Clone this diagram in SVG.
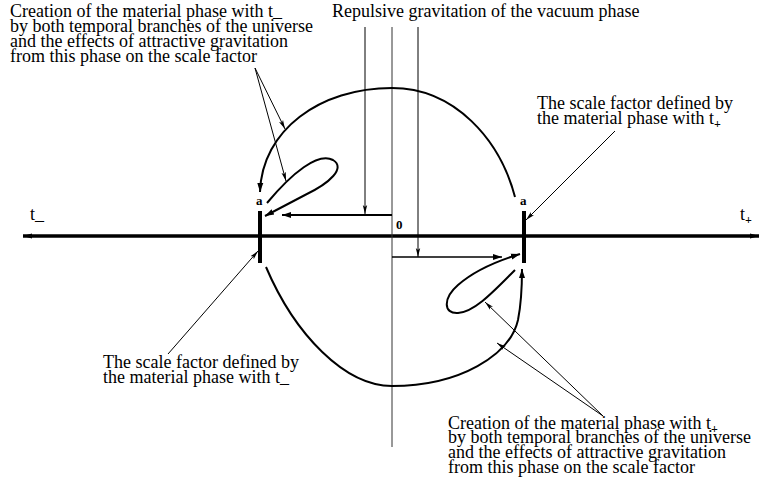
<svg xmlns="http://www.w3.org/2000/svg" width="762" height="487" viewBox="0 0 762 487">
<style>
text{font-family:"Liberation Serif","Times New Roman",serif;font-size:18px;fill:#000}
.b{font-weight:bold;font-size:13px}
.curve{fill:none;stroke:#000;stroke-width:2}
.thin{fill:none;stroke:#000;stroke-width:1}
.call{fill:none;stroke:#000;stroke-width:1;marker-end:url(#ah)}
.sub{font-size:12px;font-weight:bold}
</style>
<defs>
<marker id="ab" markerWidth="10" markerHeight="8" refX="9" refY="4" orient="auto" markerUnits="userSpaceOnUse"><path d="M0,1 L9,4 L0,7 Z" fill="#000"/></marker>
<marker id="ah" markerWidth="10" markerHeight="6" refX="9" refY="3" orient="auto" markerUnits="userSpaceOnUse"><path d="M0,0.8 L9,3 L0,5.2 L2,3 Z" fill="#000"/></marker>
<marker id="ax" markerWidth="10" markerHeight="8" refX="9" refY="4" orient="auto-start-reverse" markerUnits="userSpaceOnUse"><path d="M0,1.5 L9,4 L0,6.5 Z" fill="#000"/></marker>
</defs>

<g id="axis">
<line x1="23" y1="236" x2="759" y2="236" stroke="#000" stroke-width="3.5" marker-start="url(#ax)" marker-end="url(#ax)"/>
<text x="30" y="220">t_</text>
<text x="740" y="220">t<tspan class="sub" dy="4">+</tspan></text>
<text class="b" x="396" y="229">0</text>
</g>

<g id="bar-left">
<line x1="260" y1="211" x2="260" y2="263" stroke="#000" stroke-width="4"/>
<text class="b" x="256" y="205">a</text>
</g>
<g id="bar-right">
<line x1="524" y1="211" x2="524" y2="263" stroke="#000" stroke-width="4"/>
<text class="b" x="520" y="205">a</text>
</g>

<g id="connectors">
<line x1="392" y1="27" x2="392" y2="447" stroke="#333" stroke-width="1"/>
<path class="thin" d="M365,27 V214" marker-end="url(#ah)"/>
<path class="thin" d="M418,27 V257" marker-end="url(#ah)"/>
<path d="M392,215 H282" fill="none" stroke="#000" stroke-width="2" marker-end="url(#ab)"/>
<path d="M392,257 H502" fill="none" stroke="#000" stroke-width="1.3" marker-end="url(#ab)"/>
<path class="curve" d="M515,197 C500,140 455,88 392,88 C320,88 262,130 260,192" marker-end="url(#ab)"/>
<path class="curve" d="M267,203 C292,173 318,152 333,160 C346,168 330,183 305,195 L265,216" marker-end="url(#ab)"/>
<path class="curve" d="M266,267 C295,335 345,386 392,386 C460,386 510,355 518,320 C522,300 522,285 522,269" marker-end="url(#ab)"/>
<path class="curve" d="M515,270 C495,290 475,312 458,313 C443,314 443,298 458,285 C475,270 500,260 520,254" marker-end="url(#ab)"/>
<path class="call" d="M255,68 L285,129"/>
<path class="call" d="M255,68 L286,181"/>
<path class="call" d="M615,131 L526,220"/>
<path class="call" d="M168,354 L258,251"/>
<path class="call" d="M603,416 L485,302"/>
<path class="call" d="M603,416 L497,343"/>
</g>

<g id="label-top-left">
<text x="10" y="17">Creation of the material phase with t_</text>
<text x="10" y="32">by both temporal branches of the universe</text>
<text x="10" y="47">and the effects of attractive gravitation</text>
<text x="10" y="62">from this phase on the scale factor</text>
</g>
<g id="label-top-center">
<text x="332" y="17">Repulsive gravitation of the vacuum phase</text>
</g>
<g id="label-top-right">
<text x="537" y="109">The scale factor defined by</text>
<text x="537" y="124">the material phase with t<tspan class="sub" dy="4">+</tspan></text>
</g>
<g id="label-bottom-left">
<text x="103" y="368">The scale factor defined by</text>
<text x="103" y="383">the material phase with t_</text>
</g>
<g id="label-bottom-right">
<text x="448" y="429">Creation of the material phase with t<tspan class="sub" dy="4">+</tspan></text>
<text x="448" y="443">by both temporal branches of the universe</text>
<text x="448" y="458">and the effects of attractive gravitation</text>
<text x="448" y="473">from this phase on the scale factor</text>
</g>
</svg>
